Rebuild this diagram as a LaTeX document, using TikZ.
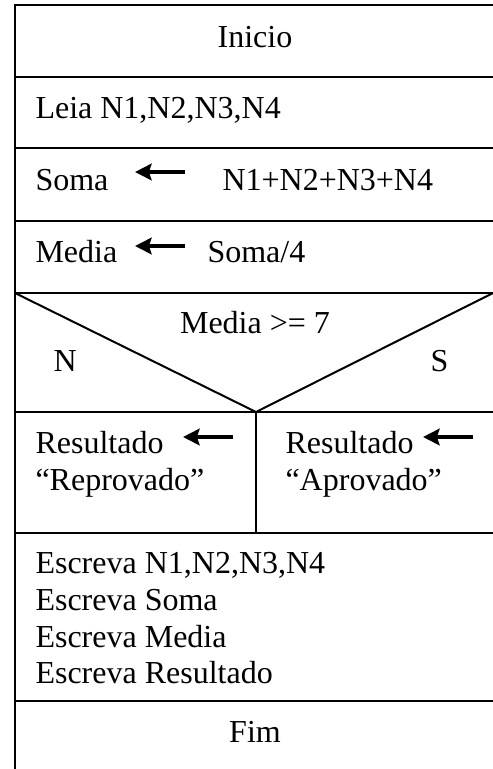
\documentclass[tikz,border=0pt]{standalone}
\usepackage{fontspec}
\setmainfont{Liberation Serif}
\usetikzlibrary{arrows.meta}
\tikzset{
    %Define standard arrow tip
    >={Stealth[length=6.2pt,width=6.2pt,inset=1pt]},
    %Define style for the frame lines
    frame/.style={
           line width=0.75pt},
    %Define styles for the cell texts
    ltxt/.style={
           anchor=base west,
           inner sep=0pt,
           font=\fontsize{12}{14}\selectfont},
    ctxt/.style={
           anchor=base,
           inner sep=0pt,
           font=\fontsize{12}{14}\selectfont},
    % Define assignment arrow style
    atr/.style={
           ->,
           line width=1.4pt}
}
\begin{document}
\begin{tikzpicture}[x=0.375pt, y=-0.375pt]
    \useasboundingbox (0,0) rectangle (493,769);
    % FRAME
    \draw[frame] (493,5) -- (15,5) -- (15,769);
    \foreach \y in {77,148,221,293,412,533,701}
        \draw[frame] (15,\y) -- (493,\y);
    % DECISION
    \draw[frame] (15,293) -- (256,412) -- (493,293);
    \draw[frame] (256,412) -- (256,533);

    \node[ctxt] (inicio) at (255,47) {Inicio};
    \node[ltxt] (leia) at (35,118) {Leia N1,N2,N3,N4};

    \node[ltxt] (soma) at (35,190) {Soma};
    \node[ltxt] (somaexp) at (222,190) {N1+N2+N3+N4};
    \coordinate (somaA) at (185,172);
    \coordinate (somaB) at (135,172);
    \draw[atr] (somaA) -- (somaB);

    \node[ltxt] (media) at (35,262) {Media};
    \node[ltxt] (mediaexp) at (207,262) {Soma/4};
    \coordinate (mediaA) at (185,246);
    \coordinate (mediaB) at (135,246);
    \draw[atr] (mediaA) -- (mediaB);

    \node[ctxt] (cond) at (255,333) {Media >= 7};
    \node[ltxt] (nao) at (53,371) {N};
    \node[ltxt] (sim) at (430,371) {S};

    \node[ltxt] (resN) at (35,453) {Resultado};
    \node[ltxt] (reprov) at (35,490) {“Reprovado”};
    \coordinate (resNA) at (233,437);
    \coordinate (resNB) at (183,437);
    \draw[atr] (resNA) -- (resNB);

    \node[ltxt] (resS) at (285,453) {Resultado};
    \node[ltxt] (aprov) at (285,490) {“Aprovado”};
    \coordinate (resSA) at (473,437);
    \coordinate (resSB) at (423,437);
    \draw[atr] (resSA) -- (resSB);

    \node[ltxt] (esc1) at (35,573) {Escreva N1,N2,N3,N4};
    \node[ltxt] (esc2) at (35,610) {Escreva Soma};
    \node[ltxt] (esc3) at (35,647) {Escreva Media};
    \node[ltxt] (esc4) at (35,683) {Escreva Resultado};

    \node[ctxt] (fim) at (255,742) {Fim};
\end{tikzpicture}
\end{document}
